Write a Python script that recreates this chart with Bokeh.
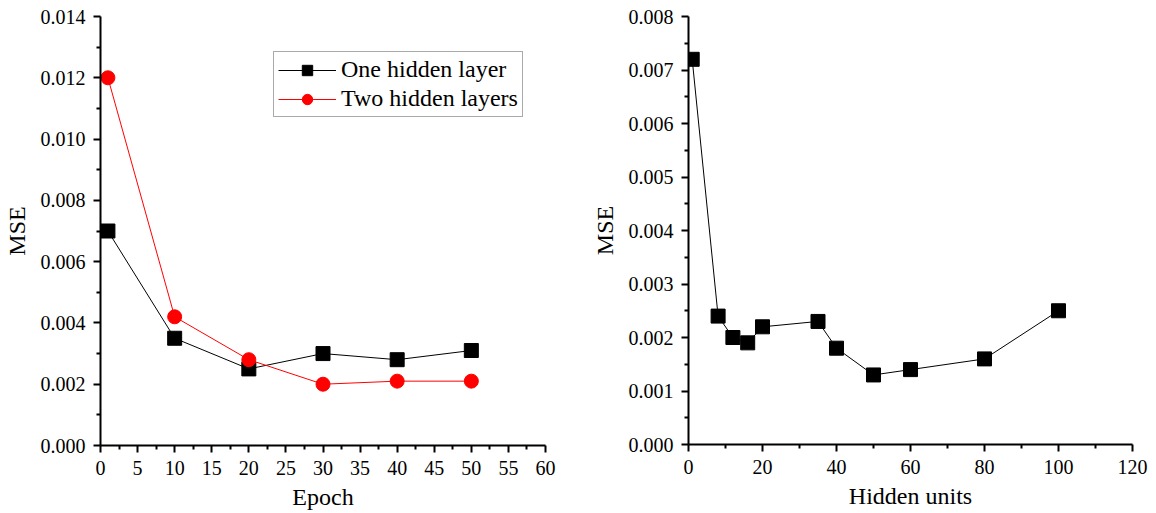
from bokeh.plotting import figure
from bokeh.layouts import row
from bokeh.models import Range1d, FixedTicker, NumeralTickFormatter, Legend, LegendItem
from bokeh.embed import file_html
from bokeh.resources import INLINE

# Left panel data
epochs = [1, 10, 20, 30, 40, 50]
mse_one_layer = [0.0070, 0.0035, 0.0025, 0.0030, 0.0028, 0.0031]
mse_two_layers = [0.0120, 0.0042, 0.0028, 0.0020, 0.0021, 0.0021]

# Right panel data
hidden_units = [1, 8, 12, 16, 20, 35, 40, 50, 60, 80, 100]
mse_units = [0.0072, 0.0024, 0.0020, 0.0019, 0.0022, 0.0023, 0.0018, 0.0013, 0.0014, 0.0016, 0.0025]

left_xticks = list(range(0, 61, 5))
left_xminor = [x + 2.5 for x in range(0, 60, 5)]
left_yticks = [0.000, 0.002, 0.004, 0.006, 0.008, 0.010, 0.012, 0.014]
left_yminor = [0.001, 0.003, 0.005, 0.007, 0.009, 0.011, 0.013]

right_xticks = list(range(0, 121, 20))
right_xminor = list(range(10, 120, 20))
right_yticks = [0.000, 0.001, 0.002, 0.003, 0.004, 0.005, 0.006, 0.007, 0.008]
right_yminor = [0.0005, 0.0015, 0.0025, 0.0035, 0.0045, 0.0055, 0.0065, 0.0075]

FONT = "Liberation Serif"


def style(p, xticks, xminor, yticks, yminor, xlabel, ylabel):
    p.xgrid.visible = False
    p.ygrid.visible = False
    p.outline_line_color = None
    p.xaxis.ticker = FixedTicker(ticks=xticks, minor_ticks=xminor)
    p.yaxis.ticker = FixedTicker(ticks=yticks, minor_ticks=yminor)
    p.yaxis.formatter = NumeralTickFormatter(format="0.000")
    p.xaxis.axis_label = xlabel
    p.yaxis.axis_label = ylabel
    for ax in (p.xaxis, p.yaxis):
        ax.axis_line_width = 2
        ax.axis_line_color = "black"
        ax.major_tick_line_color = "black"
        ax.minor_tick_line_color = "black"
        ax.major_tick_line_width = 2
        ax.minor_tick_line_width = 2
        ax.major_tick_out = 7
        ax.major_tick_in = 0
        ax.minor_tick_out = 4
        ax.minor_tick_in = 0
        ax.major_label_text_font = FONT
        ax.major_label_text_font_size = "20px"
        ax.major_label_text_color = "black"
        ax.axis_label_text_font = FONT
        ax.axis_label_text_font_size = "24px"
        ax.axis_label_text_font_style = "normal"
        ax.axis_label_text_color = "black"
    p.xaxis.major_label_standoff = 8
    p.yaxis.major_label_standoff = 8
    p.xaxis.axis_label_standoff = 6
    p.yaxis.axis_label_standoff = 8


p1 = figure(output_backend="svg", toolbar_location=None,
            frame_width=445, frame_height=429,
            x_range=Range1d(0, 60), y_range=Range1d(0, 0.014),
            min_border_left=92, min_border_right=25, min_border_top=16, min_border_bottom=52)
style(p1, left_xticks, left_xminor, left_yticks, left_yminor, "Epoch", "MSE")

l1 = p1.line(epochs, mse_one_layer, line_color="black", line_width=1)
m1 = p1.scatter(epochs, mse_one_layer, marker="square", size=14, fill_color="black", line_color="black")
l2 = p1.line(epochs, mse_two_layers, line_color="red", line_width=1)
m2 = p1.scatter(epochs, mse_two_layers, marker="circle", size=14, fill_color="red", line_color="red")

legend = Legend(items=[LegendItem(label="One hidden layer", renderers=[l1, m1]),
                       LegendItem(label="Two hidden layers", renderers=[l2, m2])],
                location=(173, 328))
legend.label_text_font = FONT
legend.label_text_font_size = "24px"
legend.label_text_color = "black"
legend.glyph_width = 58
legend.glyph_height = 26
legend.label_height = 26
legend.spacing = 2
legend.padding = 4
legend.margin = 0
legend.border_line_color = "#555555"
legend.border_line_width = 1
legend.background_fill_alpha = 1
p1.add_layout(legend)

p2 = figure(output_backend="svg", toolbar_location=None,
            frame_width=444, frame_height=428,
            x_range=Range1d(0, 120), y_range=Range1d(0, 0.008),
            min_border_left=118, min_border_right=16, min_border_top=15, min_border_bottom=54)
style(p2, right_xticks, right_xminor, right_yticks, right_yminor, "Hidden units", "MSE")
p2.line(hidden_units, mse_units, line_color="black", line_width=1)
p2.scatter(hidden_units, mse_units, marker="square", size=14, fill_color="black", line_color="black")

layout = row(p1, p2)
open("out.html", "w").write(file_html(layout, INLINE))
